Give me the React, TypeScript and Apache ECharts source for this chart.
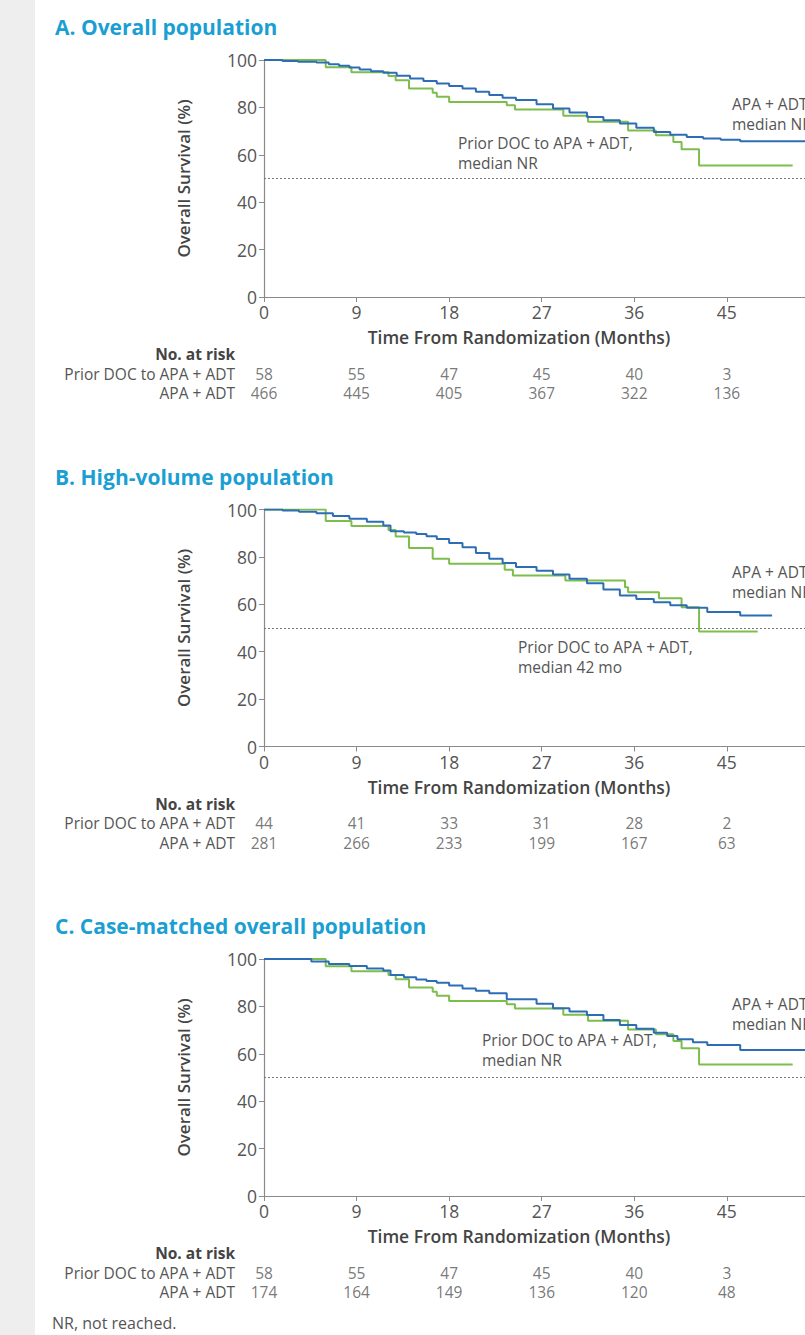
import React, { useEffect, useRef } from "react";
import * as echarts from "echarts";

const panelTitles = ["A. Overall population", "B. High-volume population", "C. Case-matched overall population"];
const rowLabels = ["Prior DOC to APA + ADT", "APA + ADT"];
const riskTimes = [0, 9, 18, 27, 36, 45];

const riskPriorA = [58, 55, 47, 45, 40, 3];
const riskApaA = [466, 445, 405, 367, 322, 136];
const riskPriorB = [44, 41, 33, 31, 28, 2];
const riskApaB = [281, 266, 233, 199, 167, 63];
const riskPriorC = [58, 55, 47, 45, 40, 3];
const riskApaC = [174, 164, 149, 136, 120, 48];

const greenA = [[0,100],[6.0,96.9],[8.5,94.8],[12.1,93.2],[12.8,91.5],[14.1,88.0],[16.4,86.2],[16.8,84.5],[18.0,82.3],[23.6,80.9],[24.4,79.1],[29.1,76.5],[31.5,73.9],[35.4,70.3],[38.1,68.2],[39.8,65.4],[40.6,62.3],[42.3,55.5],[51.4,55.5]];
const blueA = [[0,100],[1.8,99.6],[3.3,99.3],[5.1,98.9],[6.3,98.2],[7.3,97.6],[8.3,96.8],[9.3,96.0],[10.4,95.3],[11.6,94.6],[12.9,93.4],[14.2,92.2],[15.5,91.1],[16.8,90.1],[18.0,89.0],[19.3,88.0],[20.6,86.6],[21.9,85.2],[23.2,84.1],[24.5,83.1],[26.5,81.3],[28.1,79.5],[29.7,77.8],[31.4,76.0],[33.0,74.6],[34.6,73.2],[36.2,71.4],[37.9,69.6],[39.5,68.5],[41.1,67.5],[42.7,66.9],[44.4,66.4],[46.3,65.7],[52.6,65.7]];

const greenB = [[0,100],[6.0,95.1],[8.5,93.0],[12.1,91.4],[12.8,88.6],[14.1,83.8],[16.4,79.2],[18.0,77.1],[23.4,74.6],[24.2,72.2],[29.3,70.0],[35.1,67.2],[35.4,65.1],[38.4,62.6],[40.6,58.8],[42.3,48.5],[48.0,48.5]];
const blueB = [[0,100],[1.8,99.6],[3.4,99.0],[5.1,98.4],[6.7,97.3],[8.3,96.1],[10.0,94.8],[11.6,93.2],[12.3,90.8],[13.6,90.3],[14.8,89.7],[15.8,88.7],[16.8,87.6],[18.0,85.9],[19.3,84.1],[20.6,81.6],[21.9,79.2],[23.2,77.4],[24.5,75.7],[26.5,74.2],[28.1,72.6],[29.7,70.8],[31.4,68.9],[33.0,66.2],[34.6,63.7],[36.2,62.2],[37.9,60.9],[39.5,59.6],[41.1,58.5],[43.1,56.7],[46.3,55.3],[49.4,55.3]];

const greenC = [[0,100],[6.0,96.9],[8.5,94.8],[12.1,93.2],[12.8,91.5],[14.1,88.0],[16.4,86.2],[16.8,84.5],[18.0,82.3],[23.6,80.9],[24.4,79.1],[29.1,76.5],[31.5,73.9],[35.4,70.3],[38.1,68.2],[39.8,65.4],[40.6,62.3],[42.3,55.5],[51.4,55.5]];
const blueC = [[0,100],[4.6,98.9],[6.3,97.9],[8.3,97.0],[10.0,96.0],[11.6,95.1],[12.3,93.2],[13.6,92.3],[14.8,91.4],[15.8,90.7],[16.8,90.0],[18.0,88.8],[19.3,87.6],[20.6,86.6],[21.9,85.5],[23.6,83.0],[24.9,83.0],[26.5,81.1],[28.1,79.2],[29.7,77.8],[31.4,76.4],[33.0,74.3],[34.6,72.2],[36.2,70.6],[37.9,68.9],[39.2,67.5],[40.2,66.1],[41.7,64.9],[43.1,63.7],[46.3,61.6],[52.6,61.6]];

const priorNotes = ["Prior DOC to APA + ADT,\nmedian NR", "Prior DOC to APA + ADT,\nmedian 42 mo", "Prior DOC to APA + ADT,\nmedian NR"];
const apaNote = "APA + ADT,\nmedian NR";

const FONT = "'Open Sans', 'Noto Sans', sans-serif";
const BLUE = "#2d6db5";
const GREEN = "#7cbd4c";
const TXT = "#555555";
const AXIS = "#8a8a8a";

export default function App() {
  const ref = useRef<HTMLDivElement>(null);
  useEffect(() => {
    if (!ref.current) return;
    const chart = echarts.init(ref.current, undefined, { renderer: "svg" });
    const tops = [60, 509.5, 959];
    const greens = [greenA, greenB, greenC];
    const blues = [blueA, blueB, blueC];
    const priors = [riskPriorA, riskPriorB, riskPriorC];
    const apas = [riskApaA, riskApaB, riskApaC];
    const priorPos = [[458, 133], [518, 637], [482, 1030]];
    const apaPos = [[732, 94], [732, 562], [732, 994]];

    const grid: any[] = [];
    const xAxis: any[] = [];
    const yAxis: any[] = [];
    const series: any[] = [];
    const graphic: any[] = [
      { type: "rect", left: 0, top: 0, shape: { x: 0, y: 0, width: 35, height: 1335 }, style: { fill: "#eeeeee" }, z: -10 },
      { type: "text", x: 52, y: 1323, style: { text: "NR, not reached.", font: `16px ${FONT}`, fill: TXT, textVerticalAlign: "middle", lineHeight: 17 } },
    ];

    tops.forEach((T, p) => {
      const gPlot = p * 2;
      const gRisk = p * 2 + 1;
      grid.push({ left: 264, top: T, width: 541, height: 237 });
      grid.push({ left: 264, top: T + 304, width: 541, height: 39 });
      xAxis.push({
        type: "value", gridIndex: gPlot, min: 0, max: 52.6, interval: 9,
        axisLine: { show: true, lineStyle: { color: AXIS, width: 1.2 } },
        axisTick: { show: true, length: 5, lineStyle: { color: AXIS } },
        axisLabel: { color: TXT, fontSize: 17.5, fontFamily: FONT, margin: 6, showMaxLabel: false, lineHeight: 18 },
        splitLine: { show: false },
      });
      xAxis.push({ type: "value", gridIndex: gRisk, min: 0, max: 52.6, show: false });
      yAxis.push({
        type: "value", gridIndex: gPlot, min: 0, max: 100, interval: 20,
        name: "Overall Survival (%)", nameLocation: "middle", nameGap: 72,
        nameTextStyle: { color: "#444", fontSize: 17, fontWeight: 600, fontFamily: FONT },
        axisLine: { show: true, lineStyle: { color: AXIS, width: 1.2 } },
        axisTick: { show: true, length: 5, lineStyle: { color: AXIS } },
        axisLabel: { color: TXT, fontSize: 17.5, fontFamily: FONT, margin: 7, lineHeight: 18 },
        splitLine: { show: false },
      });
      yAxis.push({
        type: "category", gridIndex: gRisk, data: rowLabels, inverse: true,
        axisLine: { show: false }, axisTick: { show: false },
        axisLabel: { interval: 0, color: TXT, fontSize: 15.5, fontFamily: FONT, margin: 29, lineHeight: 16 },
      });
      series.push({
        type: "line", xAxisIndex: gPlot, yAxisIndex: gPlot, data: greens[p], step: "end",
        showSymbol: false, lineStyle: { color: GREEN, width: 2 }, itemStyle: { color: GREEN },
        markLine: {
          silent: true, symbol: ["none", "none"], label: { show: false },
          lineStyle: { type: [2, 2], color: "#777", width: 1 }, data: [{ yAxis: 50 }],
        },
      });
      series.push({
        type: "line", xAxisIndex: gPlot, yAxisIndex: gPlot, data: blues[p], step: "end",
        showSymbol: false, lineStyle: { color: BLUE, width: 2 }, itemStyle: { color: BLUE },
      });
      const riskData: any[] = [];
      riskTimes.forEach((t, i) => {
        riskData.push([t, 0, priors[p][i]]);
        riskData.push([t, 1, apas[p][i]]);
      });
      series.push({
        type: "scatter", xAxisIndex: gRisk, yAxisIndex: gRisk, data: riskData, symbolSize: 1,
        itemStyle: { color: "transparent" }, silent: true,
        label: { show: true, position: "inside", formatter: (q: any) => String(q.value[2]), color: TXT, fontSize: 15.5, fontFamily: FONT, lineHeight: 16 },
      });

      graphic.push({ type: "text", x: 55, y: T - 33, style: { text: panelTitles[p], font: `bold 21px ${FONT}`, fill: "#1b9fd3", textVerticalAlign: "middle", lineHeight: 22 } });
      graphic.push({ type: "text", x: 519, y: T + 277, style: { text: "Time From Randomization (Months)", font: `600 17.5px ${FONT}`, fill: "#444", textAlign: "center", textVerticalAlign: "middle", lineHeight: 18 } });
      graphic.push({ type: "text", x: 235, y: T + 294, style: { text: "No. at risk", font: `bold 15.5px ${FONT}`, fill: "#444", textAlign: "right", textVerticalAlign: "middle", lineHeight: 16 } });
      graphic.push({ type: "text", x: priorPos[p][0], y: priorPos[p][1], style: { text: priorNotes[p], font: `15.5px ${FONT}`, fill: TXT, lineHeight: 20 } });
      graphic.push({ type: "text", x: apaPos[p][0], y: apaPos[p][1], style: { text: apaNote, font: `15.5px ${FONT}`, fill: TXT, lineHeight: 20 } });
    });

    chart.setOption({
      animation: false,
      backgroundColor: "#ffffff",
      textStyle: { fontFamily: FONT },
      grid, xAxis, yAxis, series, graphic,
    });
    return () => chart.dispose();
  }, []);
  return <div ref={ref} style={{ position: "absolute", left: 0, top: 0, width: 805, height: 1335 }} />;
}
